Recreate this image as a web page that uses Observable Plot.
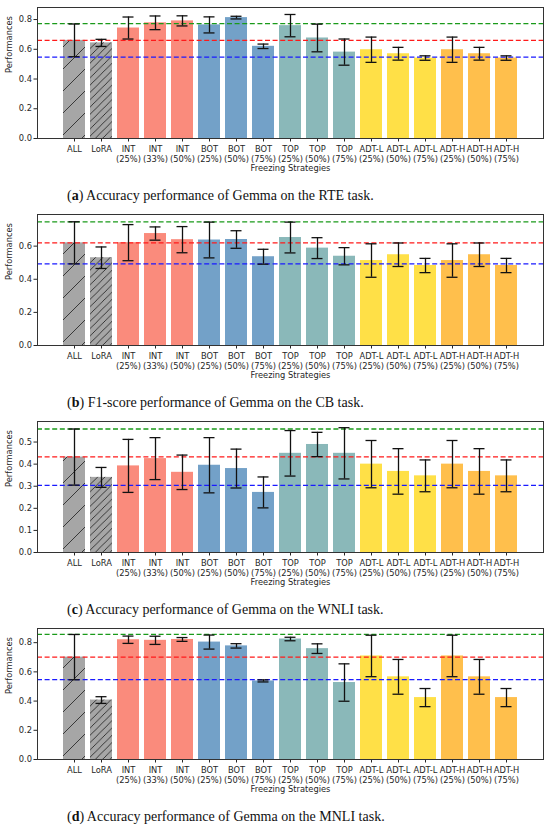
<!DOCTYPE html>
<html>
<head>
<meta charset="utf-8">
<script src="https://cdn.jsdelivr.net/npm/d3@7"></script>
<script src="https://cdn.jsdelivr.net/npm/@observablehq/plot@0.6"></script>
<style>
  body { margin: 0; background: #fff; width: 550px; }
  .panel { height: 207px; }
  .caption {
    height: 29px; box-sizing: border-box; padding: 8px 0 0 67px;
    font: 14px "Liberation Serif", serif; line-height: 20px; color: #111; white-space: nowrap;
  }
</style>
</head>
<body>
<div id="figs"></div>
<script>
// freezing strategies (x categories) and the group each belongs to
const strategies = ["ALL", "LoRA", "INT\n(25%)", "INT\n(33%)", "INT\n(50%)",
  "BOT\n(25%)", "BOT\n(50%)", "BOT\n(75%)", "TOP\n(25%)", "TOP\n(50%)", "TOP\n(75%)",
  "ADT-L\n(25%)", "ADT-L\n(50%)", "ADT-L\n(75%)", "ADT-H\n(25%)", "ADT-H\n(50%)", "ADT-H\n(75%)"];
const groups = ["ALL", "LoRA", "INT", "INT", "INT", "BOT", "BOT", "BOT", "TOP", "TOP", "TOP",
  "ADT-L", "ADT-L", "ADT-L", "ADT-H", "ADT-H", "ADT-H"];
const groupNames = ["ALL", "LoRA", "INT", "BOT", "TOP", "ADT-L", "ADT-H"];
const groupColors = ["#a6a6a6", "#a6a6a6", "#fa8b7c", "#73a1c8", "#8ab8b9", "#ffe047", "#ffbf4c"];

// (a) RTE accuracy
const rteMean = [0.660, 0.643, 0.743, 0.778, 0.791, 0.764, 0.813, 0.620, 0.759, 0.676, 0.581,
  0.597, 0.570, 0.541, 0.597, 0.570, 0.541];
const rteStd = [0.110, 0.024, 0.074, 0.046, 0.034, 0.054, 0.009, 0.015, 0.075, 0.093, 0.088,
  0.085, 0.043, 0.015, 0.085, 0.043, 0.015];
const rteRef = [0.773, 0.660, 0.547];

// (b) CB F1-score
const cbMean = [0.620, 0.530, 0.621, 0.676, 0.639, 0.637, 0.640, 0.536, 0.652, 0.588, 0.539,
  0.513, 0.548, 0.483, 0.513, 0.548, 0.483];
const cbStd = [0.127, 0.065, 0.109, 0.040, 0.079, 0.108, 0.053, 0.045, 0.093, 0.063, 0.052,
  0.101, 0.071, 0.043, 0.101, 0.071, 0.043];
const cbRef = [0.747, 0.620, 0.493];

// (c) WNLI accuracy
const wnliMean = [0.432, 0.340, 0.392, 0.425, 0.363, 0.395, 0.380, 0.272, 0.449, 0.489, 0.449,
  0.400, 0.367, 0.347, 0.400, 0.367, 0.347];
const wnliStd = [0.127, 0.045, 0.120, 0.095, 0.078, 0.125, 0.088, 0.070, 0.103, 0.055, 0.116,
  0.107, 0.103, 0.072, 0.107, 0.103, 0.072];
const wnliRef = [0.559, 0.433, 0.304];

// (d) MNLI accuracy
const mnliMean = [0.701, 0.407, 0.820, 0.816, 0.822, 0.804, 0.778, 0.538, 0.825, 0.759, 0.527,
  0.709, 0.566, 0.424, 0.709, 0.566, 0.424];
const mnliStd = [0.155, 0.023, 0.025, 0.028, 0.013, 0.048, 0.015, 0.007, 0.012, 0.033, 0.128,
  0.142, 0.119, 0.062, 0.142, 0.119, 0.062];
const mnliRef = [0.857, 0.701, 0.547];

const refColors = ["#1a9a1a", "#ff1a1a", "#1a1aff"];

const panels = [
  {mean: rteMean, std: rteStd, ref: rteRef, yMax: 0.881, ticks: [0, 0.2, 0.4, 0.6, 0.8],
   tag: "a", text: "Accuracy performance of Gemma on the RTE task."},
  {mean: cbMean, std: cbStd, ref: cbRef, yMax: 0.791, ticks: [0, 0.2, 0.4, 0.6],
   tag: "b", text: "F1-score performance of Gemma on the CB task."},
  {mean: wnliMean, std: wnliStd, ref: wnliRef, yMax: 0.593, ticks: [0, 0.1, 0.2, 0.3, 0.4, 0.5],
   tag: "c", text: "Accuracy performance of Gemma on the WNLI task."},
  {mean: mnliMean, std: mnliStd, ref: mnliRef, yMax: 0.897, ticks: [0, 0.2, 0.4, 0.6, 0.8],
   tag: "d", text: "Accuracy performance of Gemma on the MNLI task."}
];

panels.forEach((p, k) => {
  const rows = strategies.map((s, i) => ({s, g: groups[i], v: p.mean[i], e: p.std[i]}));

  const chart = Plot.plot({
    width: 550,
    height: 178,
    marginLeft: 37,
    marginRight: 7,
    marginTop: 7,
    marginBottom: 40,
    style: {fontFamily: "DejaVu Sans", fontSize: "8.3px", color: "#262626", background: "#fff"},
    x: {domain: strategies, paddingInner: 0.2, paddingOuter: 0.867},
    y: {domain: [0, p.yMax]},
    color: {domain: groupNames, range: groupColors},
    marks: [
      Plot.barY(rows, {x: "s", y: "v", fill: "g"}),
      Plot.barY(rows.filter(d => d.g === "ALL"), {x: "s", y: "v", fill: `url(#hatchA${k})`}),
      Plot.barY(rows.filter(d => d.g === "LoRA"), {x: "s", y: "v", fill: `url(#hatchB${k})`}),
      ...p.ref.map((r, j) => Plot.ruleY([r], {stroke: refColors[j], strokeWidth: 1.3, strokeDasharray: "5,2.6"})),
      Plot.ruleX(rows, {x: "s", y1: d => d.v - d.e, y2: d => d.v + d.e, stroke: "#111", strokeWidth: 1.3}),
      Plot.tickY(rows, {x: "s", y: d => d.v + d.e, stroke: "#111", strokeWidth: 1.3, insetLeft: 5.5, insetRight: 5.5}),
      Plot.tickY(rows, {x: "s", y: d => d.v - d.e, stroke: "#111", strokeWidth: 1.3, insetLeft: 5.5, insetRight: 5.5}),
      Plot.axisY({ticks: p.ticks, tickFormat: d3.format(".1f"), tickSize: 3.5, tickPadding: 2, label: null}),
      Plot.axisX({tickSize: 3.5, tickPadding: 2.5, lineHeight: 1.2, label: null}),
      Plot.text(["Freezing Strategies"], {frameAnchor: "bottom", dy: 32}),
      Plot.text(["Performances"], {frameAnchor: "left", rotate: -90, dx: -28}),
      Plot.frame({stroke: "#333", strokeWidth: 1})
    ]
  });

  // matplotlib-style "/" hatching for the ALL and LoRA bars
  d3.select(chart).insert("defs", ":first-child").html(`
    <pattern id="hatchA${k}" patternUnits="userSpaceOnUse" width="22" height="22">
      <path d="M0,22L22,0M-2,2L2,-2M20,24L24,20" stroke="#2b2b2b" stroke-width="0.9"/>
    </pattern>
    <pattern id="hatchB${k}" patternUnits="userSpaceOnUse" width="7.3" height="7.3">
      <path d="M0,7.3L7.3,0M-1,1L1,-1M6.3,8.3L8.3,6.3" stroke="#2b2b2b" stroke-width="0.9"/>
    </pattern>`);

  const panel = d3.select("#figs").append("div").attr("class", "panel");
  panel.append(() => chart);
  panel.append("div").attr("class", "caption")
    .html(`(<b>${p.tag}</b>) ${p.text}`);
});
</script>
</body>
</html>
